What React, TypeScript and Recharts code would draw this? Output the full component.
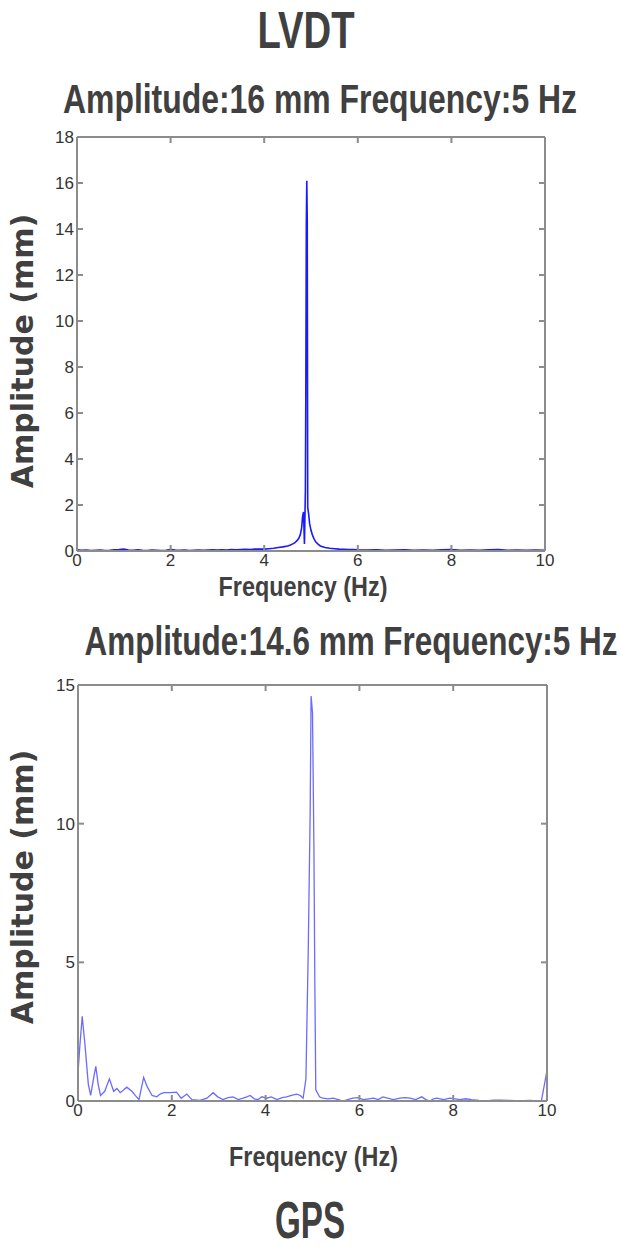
import { LineChart, Line, XAxis, YAxis } from 'recharts';

const xTicks = [0, 2, 4, 6, 8, 10];
const lvdtTicks = [0, 2, 4, 6, 8, 10, 12, 14, 16, 18];
const gpsTicks = [0, 5, 10, 15];

// LVDT spectrum (Hz / mm)
const lvdtFreq = [
  0, 0.1, 0.2, 0.3, 0.4, 0.5, 0.6, 0.7, 0.8, 0.9, 1.0, 1.1, 1.2, 1.3, 1.4, 1.5, 1.6, 1.7, 1.8, 1.9,
  2.0, 2.1, 2.2, 2.3, 2.4, 2.5, 2.6, 2.7, 2.8, 2.9, 3.0, 3.1, 3.2, 3.3, 3.4, 3.5, 3.6, 3.7, 3.8, 3.9,
  4.0, 4.1, 4.2, 4.3, 4.4, 4.5, 4.55, 4.6, 4.65, 4.7, 4.74, 4.77, 4.8, 4.82, 4.84, 4.86, 4.88, 4.89,
  4.9, 4.91, 4.92, 4.93, 4.95, 4.97, 5.0, 5.03, 5.06, 5.1, 5.15, 5.2, 5.3, 5.4, 5.5, 5.6, 5.7, 5.8,
  5.9, 6.0, 6.2, 6.4, 6.6, 6.8, 7.0, 7.2, 7.4, 7.6, 7.8, 8.0, 8.2, 8.4, 8.6, 8.8, 9.0, 9.2, 9.4, 9.6,
  9.8, 10,
];
const lvdtAmp = [
  0.05, 0.03, 0.04, 0.02, 0.03, 0.04, 0.02, 0.03, 0.05, 0.06, 0.08, 0.04, 0.03, 0.05, 0.03, 0.02, 0.04, 0.03, 0.02, 0.03,
  0.06, 0.04, 0.03, 0.04, 0.02, 0.03, 0.04, 0.03, 0.04, 0.05, 0.04, 0.05, 0.04, 0.06, 0.05, 0.06, 0.07, 0.06, 0.08, 0.09,
  0.08, 0.1, 0.12, 0.15, 0.18, 0.22, 0.25, 0.3, 0.35, 0.45, 0.55, 0.7, 1.0, 1.5, 1.7, 0.3, 2.6, 7.2,
  14.2, 16.1, 14.3, 1.9, 1.6, 1.2, 0.9, 0.7, 0.55, 0.4, 0.3, 0.22, 0.15, 0.12, 0.1, 0.08, 0.07, 0.06,
  0.06, 0.05, 0.04, 0.05, 0.03, 0.04, 0.05, 0.03, 0.04, 0.03, 0.05, 0.06, 0.03, 0.04, 0.03, 0.05, 0.06, 0.03, 0.04, 0.03,
  0.04, 0.03,
];

// GPS spectrum
const gpsFreq = [
  0, 0.04, 0.09, 0.15, 0.22, 0.27, 0.33, 0.38, 0.43, 0.48, 0.57, 0.67, 0.76, 0.83, 0.9, 0.97, 1.04, 1.15,
  1.22, 1.3, 1.4, 1.48, 1.58, 1.68, 1.75, 1.83, 1.97, 2.1, 2.2, 2.32, 2.43, 2.6, 2.75, 2.88, 2.98, 3.09,
  3.2, 3.3, 3.42, 3.52, 3.6, 3.67, 3.76, 3.84, 3.92, 4.02, 4.12, 4.24, 4.35, 4.45, 4.55, 4.66, 4.74, 4.8,
  4.86, 4.91, 4.95, 4.97, 5.0, 5.03, 5.05, 5.07, 5.15, 5.22, 5.33, 5.44, 5.55, 5.65, 5.75, 5.86, 5.97,
  6.08, 6.2, 6.3, 6.4, 6.5, 6.6, 6.72, 6.87, 6.97, 7.08, 7.2, 7.33, 7.42, 7.5, 7.58, 7.65, 7.8, 7.93,
  8.05, 8.14, 8.27, 8.39, 8.55, 8.71, 8.85, 9.0, 9.2, 9.42, 9.63, 9.8, 9.88, 10,
];
const gpsAmp = [
  1.0, 2.0, 3.05, 2.0, 0.6, 0.2, 0.8, 1.25, 0.6, 0.2, 0.35, 0.8, 0.35, 0.45, 0.3, 0.4, 0.5, 0.35,
  0.2, 0.05, 0.85, 0.5, 0.2, 0.15, 0.25, 0.3, 0.3, 0.32, 0.1, 0.25, 0.05, 0.02, 0.1, 0.3, 0.15, 0.05,
  0.12, 0.15, 0.05, 0.1, 0.15, 0.2, 0.08, 0.05, 0.15, 0.1, 0.15, 0.05, 0.12, 0.15, 0.2, 0.25, 0.2, 0.1,
  0.8, 5.5, 10.4, 14.6, 14.0, 9.2, 4.2, 0.4, 0.15, 0.1, 0.08, 0.1, 0.05, 0.0, 0.05, 0.1, 0.12,
  0.05, 0.08, 0.1, 0.05, 0.15, 0.1, 0.05, 0.1, 0.12, 0.1, 0.05, 0.15, 0.05, 0.0, 0.08, 0.1, 0.05, 0.1,
  0.08, 0.05, 0.08, 0.05, 0.02, 0.0, 0.03, 0.03, 0.02, 0.0, 0.02, 0.0, 0.0, 1.1,
];

const toRows = (f: number[], a: number[]) => f.map((v, i) => ({ f: v, a: a[i] }));

const axisGray = '#8c8c8c';
const textGray = '#404040';
const narrow = "'Liberation Sans Narrow', 'Liberation Sans', Arial, sans-serif";
const tickFont = { fontSize: 17, fill: '#333333', fontFamily: narrow };

// ticks on the top/right edges of the box: tick line only, no label
const noLabel = () => <g />;

function xLabel(dx: number, baseline: number) {
  return (props: any) => {
    const { x, y, width } = props.viewBox;
    return (
      <text x={x + width / 2 + dx} y={y + baseline} textAnchor="middle" fill={textGray}
        fontFamily={narrow} fontWeight={700} fontSize={27} textLength={169} lengthAdjust="spacingAndGlyphs">
        Frequency (Hz)
      </text>
    );
  };
}

function yLabel(dy: number) {
  return (props: any) => {
    const { y, height } = props.viewBox;
    return (
      <text transform={`translate(33, ${y + height / 2 + dy}) rotate(-90)`} textAnchor="middle" fill={textGray}
        fontFamily="'DejaVu Sans', sans-serif" fontWeight={700} fontSize={30}>
        Amplitude (mm)
      </text>
    );
  };
}

interface SpectrumProps {
  rows: { f: number; a: number }[];
  yTicks: number[];
  height: number;
  top: number;
  left: number;
  right: number;
  bottom: number;
  color: string;
  strokeWidth: number;
  xLabelDx: number;
  xLabelBase: number;
  yLabelDy: number;
}

// top/left/right/bottom are plot edges inside this chart's own svg
function Spectrum(p: SpectrumProps) {
  const yMax = p.yTicks[p.yTicks.length - 1];
  return (
    <LineChart width={620} height={p.height} data={p.rows}
      margin={{ top: p.top - 1, left: 0, right: 620 - p.right - 1, bottom: 0 }}>
      <XAxis dataKey="f" type="number" domain={[0, 10]} ticks={xTicks} height={p.height - p.bottom}
        stroke={axisGray} strokeWidth={2} tickSize={-6} tickMargin={9} tick={tickFont}
        label={{ content: xLabel(p.xLabelDx, p.xLabelBase) }} />
      <XAxis xAxisId="top" dataKey="f" orientation="top" type="number" domain={[0, 10]} ticks={xTicks}
        allowDataOverflow height={1} stroke={axisGray} strokeWidth={2} tickSize={-6} tick={noLabel} />
      <YAxis type="number" domain={[0, yMax]} ticks={p.yTicks} width={p.left}
        stroke={axisGray} strokeWidth={2} tickSize={-6} tickMargin={9} tick={tickFont}
        label={{ content: yLabel(p.yLabelDy) }} />
      <YAxis yAxisId="right" dataKey="a" orientation="right" type="number" domain={[0, yMax]} ticks={p.yTicks}
        allowDataOverflow width={1} stroke={axisGray} strokeWidth={2} tickSize={-6} tick={noLabel} />
      <Line dataKey="a" type="linear" stroke={p.color} strokeWidth={p.strokeWidth} dot={false} isAnimationActive={false} />
      <Line xAxisId="top" yAxisId="right" dataKey="a" stroke="none" dot={false} legendType="none" isAnimationActive={false} />
    </LineChart>
  );
}

function Title({ top, height, children }: { top: number; height: number; children: any }) {
  return (
    <svg width={620} height={height} style={{ position: 'absolute', left: 0, top }}>
      <g fill={textGray} fontFamily={narrow} fontWeight={700} textAnchor="middle">{children}</g>
    </svg>
  );
}

// squeezed title text; width is the drawn width in px
function Squeezed({ cx, y, size, width, text }: { cx: number; y: number; size: number; width: number; text: string }) {
  const sx = 0.75;
  return (
    <text transform={`translate(${cx}, ${y}) scale(${sx}, 1)`} fontSize={size}
      textLength={width / sx} lengthAdjust="spacingAndGlyphs">{text}</text>
  );
}

export default function App() {
  return (
    <div style={{ position: 'absolute', left: 0, top: 0, width: 620, height: 1250, background: '#fff' }}>
      <Title top={0} height={125}>
        <Squeezed cx={306} y={48} size={52} width={97} text="LVDT" />
        <Squeezed cx={320} y={113} size={41} width={514} text="Amplitude:16 mm Frequency:5 Hz" />
      </Title>
      <div style={{ position: 'absolute', left: 0, top: 125 }}>
        <Spectrum rows={toRows(lvdtFreq, lvdtAmp)} yTicks={lvdtTicks} height={485}
          top={12} left={77} right={545} bottom={426} color="#1a1aff" strokeWidth={1.6}
          xLabelDx={-8} xLabelBase={45} yLabelDy={7} />
      </div>
      <Title top={610} height={60}>
        <Squeezed cx={351} y={45} size={40} width={533} text="Amplitude:14.6 mm Frequency:5 Hz" />
      </Title>
      <div style={{ position: 'absolute', left: 0, top: 670 }}>
        <Spectrum rows={toRows(gpsFreq, gpsAmp)} yTicks={gpsTicks} height={510}
          top={15} left={78} right={547} bottom={431} color="#6b6bff" strokeWidth={1.3}
          xLabelDx={1} xLabelBase={65} yLabelDy={-6} />
      </div>
      <Title top={1180} height={70}>
        <Squeezed cx={310} y={58} size={52} width={70} text="GPS" />
      </Title>
    </div>
  );
}
